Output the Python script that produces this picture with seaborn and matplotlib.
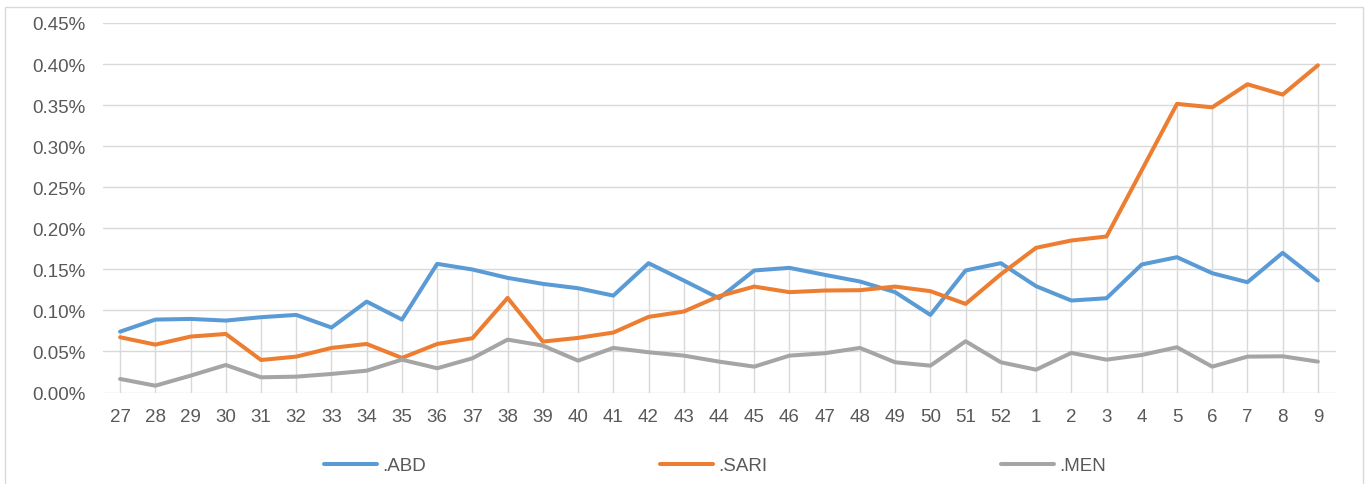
import numpy as np
import pandas as pd
import matplotlib
matplotlib.use("Agg")
import matplotlib.pyplot as plt
import seaborn as sns
from matplotlib.ticker import FuncFormatter
from matplotlib.patches import Rectangle

weeks = ["27", "28", "29", "30", "31", "32", "33", "34", "35", "36", "37", "38",
         "39", "40", "41", "42", "43", "44", "45", "46", "47", "48", "49", "50",
         "51", "52", "1", "2", "3", "4", "5", "6", "7", "8", "9"]

abd = [0.0741, 0.0888, 0.0896, 0.0876, 0.0917, 0.0945, 0.0791, 0.1107, 0.0888, 0.1567,
       0.1498, 0.1396, 0.1323, 0.1270, 0.1180, 0.1575, 0.1364, 0.1148, 0.1486, 0.1518,
       0.1433, 0.1352, 0.1222, 0.0945, 0.1486, 0.1575, 0.1295, 0.1120, 0.1148, 0.1559,
       0.1648, 0.1453, 0.1343, 0.1701, 0.1364]

sari = [0.0673, 0.0583, 0.0681, 0.0713, 0.0396, 0.0437, 0.0543, 0.0591, 0.0421, 0.0591,
        0.0661, 0.1152, 0.0620, 0.0665, 0.0730, 0.0921, 0.0986, 0.1173, 0.1290, 0.1222,
        0.1242, 0.1246, 0.1290, 0.1234, 0.1079, 0.1440, 0.1762, 0.1851, 0.1900, 0.2707,
        0.3515, 0.3473, 0.3754, 0.3628, 0.3985]

men = [0.0165, 0.0083, 0.0205, 0.0335, 0.0185, 0.0193, 0.0226, 0.0266, 0.0400, 0.0295,
       0.0417, 0.0644, 0.0571, 0.0388, 0.0543, 0.0490, 0.0449, 0.0376, 0.0315, 0.0449,
       0.0478, 0.0543, 0.0368, 0.0327, 0.0624, 0.0368, 0.0278, 0.0482, 0.0400, 0.0457,
       0.0551, 0.0315, 0.0437, 0.0441, 0.0376]

series_names = [".ABD", ".SARI", ".MEN"]
colors = ["#5B9BD5", "#ED7D31", "#A5A5A5"]
y_ticks = [0.00, 0.05, 0.10, 0.15, 0.20, 0.25, 0.30, 0.35, 0.40, 0.45]

sns.set_theme(style="white")
plt.rcParams["font.family"] = ["Liberation Sans", "DejaVu Sans"]

FS = 13.5
pos = np.arange(len(weeks))
df = pd.DataFrame({
    "pos": np.concatenate([pos, pos, pos]),
    "value": np.concatenate([abd, sari, men]),
    "series": np.repeat(series_names, len(weeks)),
})

fig = plt.figure(figsize=(13.68, 4.85), dpi=100)
ax = fig.add_axes([102.5 / 1368, 1 - 393.5 / 485, (1335.5 - 102.5) / 1368, (393.5 - 24) / 485])

# drop lines
maxv = np.max(np.vstack([abd, sari, men]), axis=0)
ax.vlines(pos, 0, maxv, color="#d9d9d9", lw=1.0, zorder=1)

sns.lineplot(data=df, x="pos", y="value", hue="series", hue_order=series_names,
             palette=colors, linewidth=2.9, ax=ax, legend=False, zorder=3)

ax.set_xlim(-0.5, len(weeks) - 0.5)
ax.set_ylim(0, 0.45)
ax.set_yticks(y_ticks)
ax.yaxis.set_major_formatter(FuncFormatter(lambda v, p: f"{v:.2f}%"))
ax.set_xticks(pos)
ax.set_xticklabels(weeks)
ax.grid(axis="y", color="#d9d9d9", lw=1.0, zorder=0)
ax.grid(axis="x", visible=False)
for s in ax.spines.values():
    s.set_visible(False)
ax.tick_params(axis="both", length=0, labelsize=FS, labelcolor="#595959")
ax.tick_params(axis="x", pad=11.5)
ax.tick_params(axis="y", pad=12.5)
ax.set_xlabel("")
ax.set_ylabel("")
ax.set_axisbelow(True)

handles = [plt.Line2D([], [], color=c, lw=2.9) for c in colors]
fig.legend(handles, series_names, loc="center", bbox_to_anchor=(0.5227, 1 - 466.5 / 485),
           ncol=3, frameon=False, fontsize=FS, labelcolor="#595959",
           handlelength=2.8, handletextpad=0.28, columnspacing=12.5)

fig.patches.append(Rectangle((5 / 1368, -0.05), (1363 - 5) / 1368, 1.05 - 8 / 485,
                             transform=fig.transFigure, fill=False,
                             edgecolor="#d9d9d9", lw=1.0))

fig.savefig("out.png", dpi=100, facecolor="white")
